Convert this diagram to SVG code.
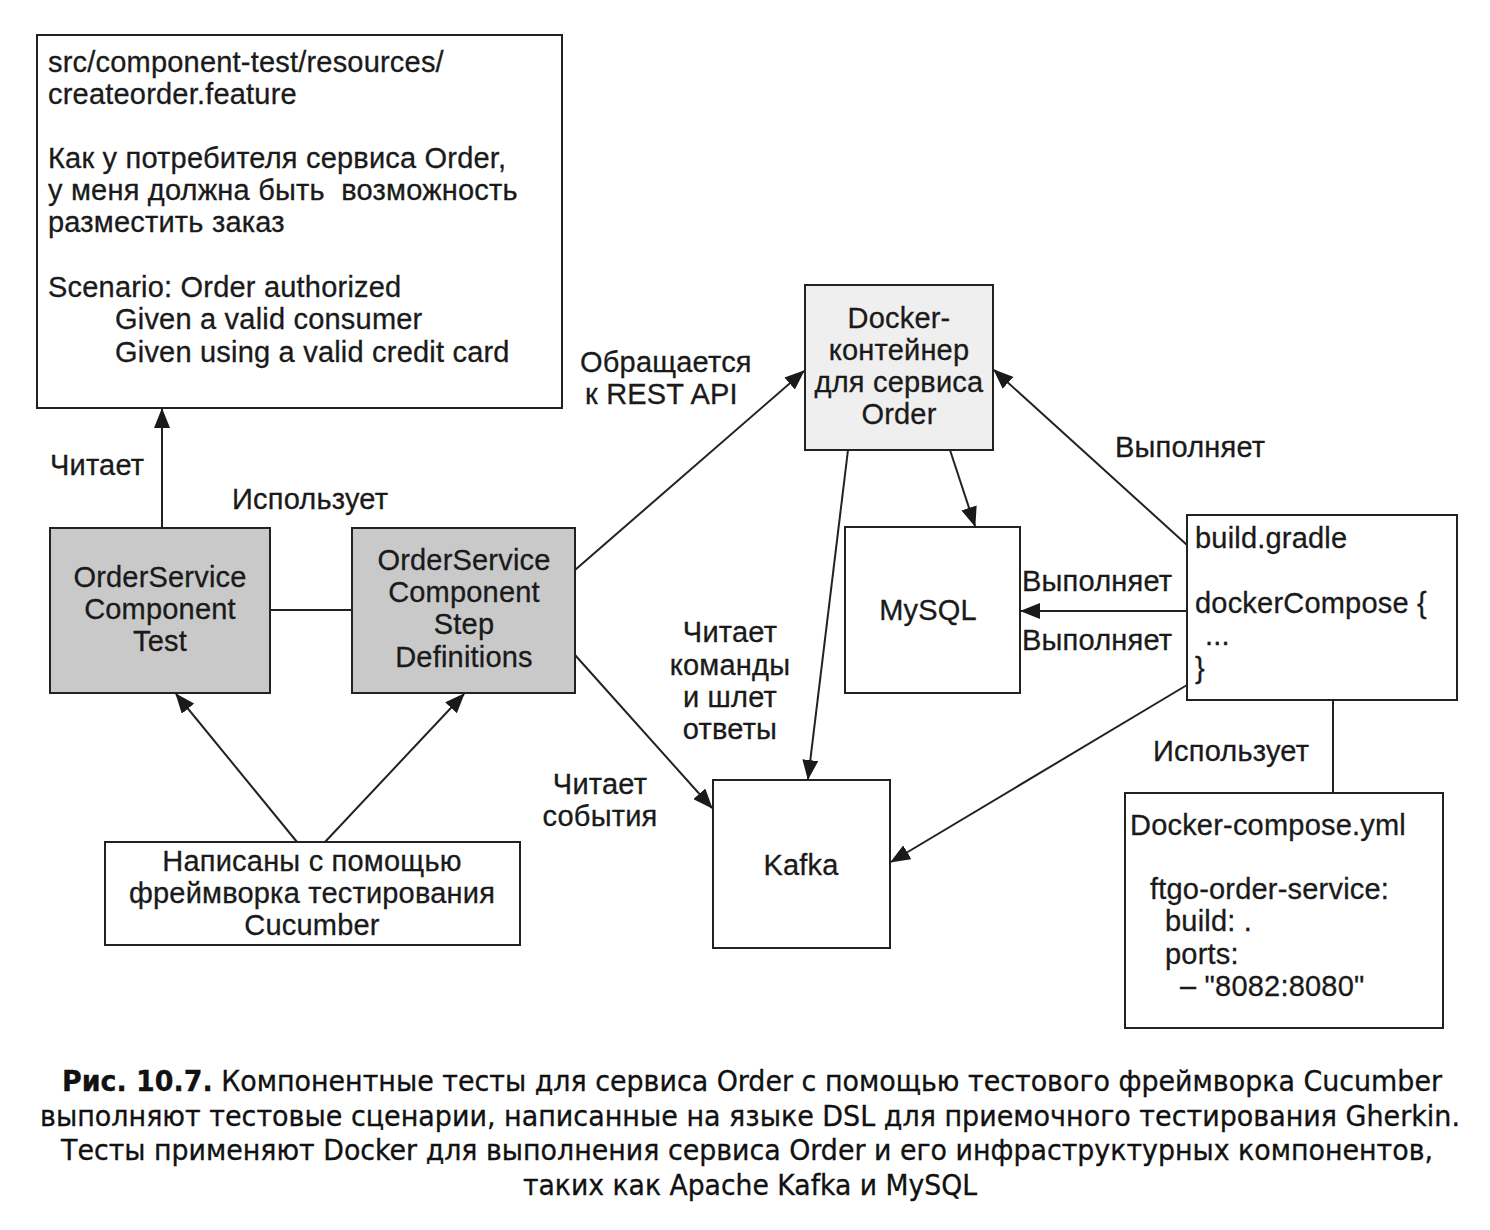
<svg xmlns="http://www.w3.org/2000/svg" width="1490" height="1230" viewBox="0 0 1490 1230">
<style>
.box{fill:#fff;stroke:#222;stroke-width:2}
.gray{fill:#c9c9c9;stroke:#222;stroke-width:2}
.lgray{fill:#efefef;stroke:#222;stroke-width:2}
.t{font-family:"Liberation Sans",Arial,sans-serif;font-size:29px;letter-spacing:0.2px;fill:#1a1a1a;stroke:#1a1a1a;stroke-width:0.3}
.c{text-anchor:middle}
.ln{stroke:#222;stroke-width:2;fill:none}
.cap{font-family:"DejaVu Sans Condensed","DejaVu Sans",sans-serif;font-size:28px;fill:#111;text-anchor:middle;stroke:#111;stroke-width:0.3}
</style>
<defs>
<marker id="ah" markerWidth="20" markerHeight="16" refX="19" refY="8" orient="auto" markerUnits="userSpaceOnUse">
<path d="M0,0 L20,8 L0,16 z" fill="#1a1a1a"/>
</marker>
</defs>
<rect width="1490" height="1230" fill="#fff"/>

<g id="feature">
<rect class="box" x="37" y="35" width="525" height="373"/>
<text class="t" x="48" y="72">src/component-test/resources/</text>
<text class="t" x="48" y="104">createorder.feature</text>
<text class="t" x="48" y="168">Как у потребителя сервиса Order,</text>
<text class="t" x="48" y="200" xml:space="preserve">у меня должна быть  возможность</text>
<text class="t" x="48" y="232">разместить заказ</text>
<text class="t" x="48" y="297">Scenario: Order authorized</text>
<text class="t" x="115" y="329">Given a valid consumer</text>
<text class="t" x="115" y="362">Given using a valid credit card</text>
</g>

<g id="componentTest">
<rect class="gray" x="50" y="528" width="220" height="165"/>
<text class="t c" x="160" y="587">OrderService</text>
<text class="t c" x="160" y="619">Component</text>
<text class="t c" x="160" y="651">Test</text>
</g>

<g id="stepDefs">
<rect class="gray" x="352" y="528" width="223" height="165"/>
<text class="t c" x="464" y="570">OrderService</text>
<text class="t c" x="464" y="602">Component</text>
<text class="t c" x="464" y="634">Step</text>
<text class="t c" x="464" y="667">Definitions</text>
</g>

<g id="docker">
<rect class="lgray" x="805" y="285" width="188" height="165"/>
<text class="t c" x="899" y="328">Docker-</text>
<text class="t c" x="899" y="360">контейнер</text>
<text class="t c" x="899" y="392">для сервиса</text>
<text class="t c" x="899" y="424">Order</text>
</g>

<g id="mysql">
<rect class="box" x="845" y="527" width="175" height="166"/>
<text class="t c" x="928" y="620">MySQL</text>
</g>

<g id="buildGradle">
<rect class="box" x="1187" y="515" width="270" height="185"/>
<text class="t" x="1195" y="548">build.gradle</text>
<text class="t" x="1195" y="613">dockerCompose {</text>
<text class="t" x="1205" y="645">...</text>
<text class="t" x="1195" y="678">}</text>
</g>

<g id="kafka">
<rect class="box" x="713" y="780" width="177" height="168"/>
<text class="t c" x="801" y="875">Kafka</text>
</g>

<g id="compose">
<rect class="box" x="1125" y="793" width="318" height="235"/>
<text class="t" x="1130" y="835">Docker-compose.yml</text>
<text class="t" x="1150" y="899">ftgo-order-service:</text>
<text class="t" x="1165" y="931">build: .</text>
<text class="t" x="1165" y="964">ports:</text>
<text class="t" x="1180" y="996">– "8082:8080"</text>
</g>

<g id="cucumber">
<rect class="box" x="105" y="842" width="415" height="103"/>
<text class="t c" x="312" y="871">Написаны с помощью</text>
<text class="t c" x="312" y="903">фреймворка тестирования</text>
<text class="t c" x="312" y="935">Cucumber</text>
</g>

<g id="connectors">
<line class="ln" x1="162" y1="528" x2="162" y2="409" marker-end="url(#ah)"/>
<line class="ln" x1="270" y1="610" x2="352" y2="610"/>
<line class="ln" x1="575" y1="570" x2="804" y2="371" marker-end="url(#ah)"/>
<line class="ln" x1="575" y1="655" x2="712" y2="808" marker-end="url(#ah)"/>
<line class="ln" x1="848" y1="450" x2="808" y2="779" marker-end="url(#ah)"/>
<line class="ln" x1="950" y1="450" x2="975" y2="526" marker-end="url(#ah)"/>
<line class="ln" x1="1187" y1="545" x2="994" y2="370" marker-end="url(#ah)"/>
<line class="ln" x1="1187" y1="611" x2="1021" y2="611" marker-end="url(#ah)"/>
<line class="ln" x1="1187" y1="685" x2="891" y2="862" marker-end="url(#ah)"/>
<line class="ln" x1="1333" y1="700" x2="1333" y2="793"/>
<line class="ln" x1="297" y1="842" x2="176" y2="694" marker-end="url(#ah)"/>
<line class="ln" x1="325" y1="842" x2="464" y2="694" marker-end="url(#ah)"/>
</g>

<g id="labels">
<text class="t" x="50" y="475">Читает</text>
<text class="t" x="232" y="509">Использует</text>
<text class="t" x="580" y="372">Обращается</text>
<text class="t" x="585" y="404">к REST API</text>
<text class="t c" x="600" y="794">Читает</text>
<text class="t c" x="600" y="826">события</text>
<text class="t c" x="730" y="642">Читает</text>
<text class="t c" x="730" y="675">команды</text>
<text class="t c" x="730" y="707">и шлет</text>
<text class="t c" x="730" y="739">ответы</text>
<text class="t" x="1115" y="457">Выполняет</text>
<text class="t" x="1022" y="591">Выполняет</text>
<text class="t" x="1022" y="650">Выполняет</text>
<text class="t" x="1153" y="761">Использует</text>
</g>

<g id="caption">
<text class="cap" x="752" y="1091" textLength="1380" lengthAdjust="spacingAndGlyphs"><tspan font-weight="bold">Рис. 10.7.</tspan> Компонентные тесты для сервиса Order с помощью тестового фреймворка Cucumber</text>
<text class="cap" x="750" y="1126" textLength="1420" lengthAdjust="spacingAndGlyphs">выполняют тестовые сценарии, написанные на языке DSL для приемочного тестирования Gherkin.</text>
<text class="cap" x="747" y="1160" textLength="1372" lengthAdjust="spacingAndGlyphs">Тесты применяют Docker для выполнения сервиса Order и его инфраструктурных компонентов,</text>
<text class="cap" x="750" y="1195" textLength="454" lengthAdjust="spacingAndGlyphs">таких как Apache Kafka и MySQL</text>
</g>
</svg>
